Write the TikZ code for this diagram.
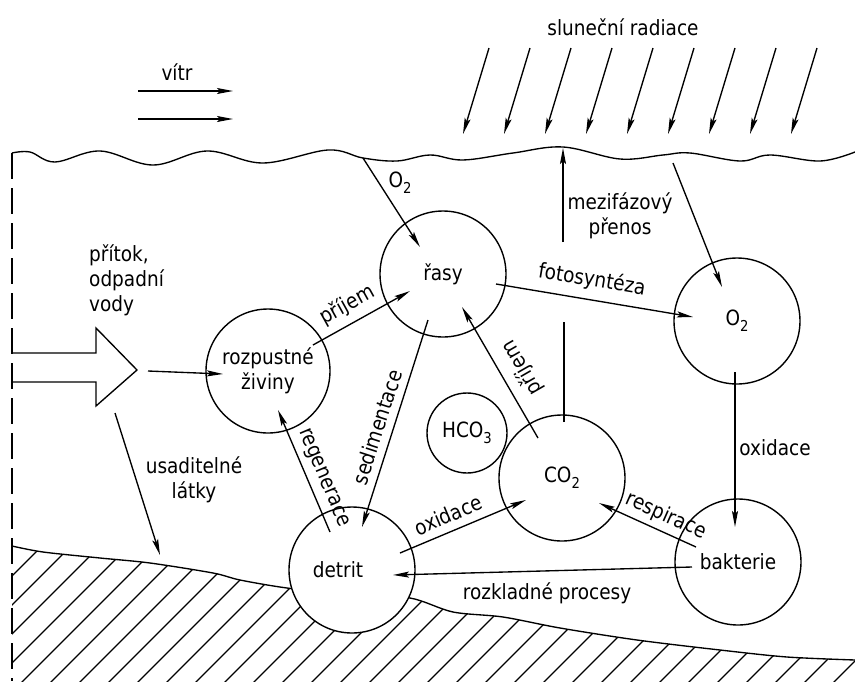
\documentclass[tikz,border=0pt]{standalone}
\usepackage{fontspec}
\setmainfont[FakeStretch=0.88]{DejaVu Sans}
\usetikzlibrary{arrows.meta}
\newcommand\chsub[1]{\raisebox{-0.5ex}{\fontsize{15}{15}\selectfont #1}}
\begin{document}
\begin{tikzpicture}[x=1pt,y=-1pt,
  every node/.style={font=\fontsize{21}{25}\selectfont, inner sep=0pt},
  ln/.style={line width=1.35pt},
  arr/.style={ln, -{Stealth[length=16pt,width=6pt,inset=3pt]}},
  blob/.style={circle, draw, line width=1.4pt, minimum size=#1}]
\useasboundingbox (0,0) rectangle (855,681);

% ground hatching
\begin{scope}
\clip plot[smooth] coordinates {(12,546) (43,552) (100,558) (150,563) (213,573) (240,580) (287,588) (352,595) (410,598) (453,612) (503,617) (560,628) (637,640) (720,650) (787,657) (855,660)} -- (855,690) -- (12,690) -- cycle;
\foreach \c in {-160,-131,...,880} \draw[ln] (\c,690) -- ({\c+220},470);
\end{scope}
\draw[ln] plot[smooth] coordinates {(12,546) (43,552) (100,558) (150,563) (213,573) (240,580) (287,588) (352,595) (410,598) (453,612) (503,617) (560,628) (637,640) (720,650) (787,657) (855,660)};

% water surface
\draw[ln] plot[smooth, tension=0.6] coordinates {(12,153) (30,152) (55,162) (100,151) (153,165) (207,151) (263,163) (328,150) (363,158) (397,161) (430,155) (463,160) (513,153) (563,147) (620,159) (663,155) (690,153) (740,161) (770,155) (820,161) (855,152)};
% left dashed boundary
\draw[ln, dash pattern=on 26pt off 9pt] (12,153) -- (12,681);

% wind
\node (vitr) at (177,72) {vítr};
\coordinate (w1a) at (138,91); \coordinate (w1b) at (233,91);
\coordinate (w2a) at (138,119); \coordinate (w2b) at (233,119);
\draw[arr] (w1a) -- (w1b);
\draw[arr] (w2a) -- (w2b);

% solar radiation
\node (sun) at (623,27) {sluneční radiace};
\foreach \i in {0,...,8} {
  \coordinate (s\i a) at ({489+41*\i},48);
  \coordinate (s\i b) at ({463+41*\i},134);
  \draw[arr] (s\i a) -- (s\i b);
}

% circles
\node[blob=126pt] (rasy) at (443,274) {řasy};
\node[blob=124pt, align=center] (rozp) at (268,371) {rozpustné\\živiny};
\node[blob=126pt] (otwo) at (737,321) {O\chsub{2}};
\node[blob=80pt] (hco) at (467,433) {HCO\chsub{3}};
\node[blob=126pt] (co) at (562,478) {CO\chsub{2}};
\node[blob=126pt] (bakt) at (738,562) {bakterie};
\node[blob=126pt, fill=white, text width=0pt] (detrit) at (352,570) {};
\node (detritlbl) at (338,570) {detrit};

% inflow of waste water
\draw[ln] (12,353) -- (96,353) -- (96,328) -- (137,370) -- (96,406) -- (96,382) -- (12,382);
\node[align=left, anchor=north west] (inflow) at (89,244) {přítok,\\odpadní\\vody};
\coordinate (inA) at (148,371);
\draw[arr] (inA) -- ([shift={(-45,3)}]rozp.center);

% settleable matter
\coordinate (usA) at (115,413); \coordinate (usB) at (160,555);
\draw[arr] (usA) -- (usB);
\node[align=center] (usad) at (194,480) {usaditelné\\látky};

% O2 from surface to algae
\coordinate (o2s) at (363,158);
\draw[arr] (o2s) -- ([shift={(-23,-27)}]rasy.center);
\node (o2lbl) at (400,183) {O\chsub{2}};

% surface to O2
\coordinate (o2s2) at (673,163);
\draw[arr] (o2s2) -- ([shift={(-15,-34)}]otwo.center);

% interphase transfer
\coordinate (mzA) at (564,322);
\coordinate (mzB) at (563,242);
\coordinate (mzC) at (563,148);
\draw[ln] ([shift={(2,-56)}]co.center) -- (mzA);
\draw[arr] (mzB) -- (mzC);
\node[align=center] (mz) at (620,216) {mezifázový\\přenos};

% process arrows
\draw[arr] ([shift={(45,-26)}]rozp.center) -- ([shift={(-33,17)}]rasy.center);
\node[rotate=29] (l1) at (347,305) {příjem};

\draw[arr] ([shift={(53,10)}]rasy.center) -- ([shift={(-44,-4)}]otwo.center);
\node[rotate=-9.5] (l2) at (592,280) {fotosyntéza};

\draw[arr] ([shift={(-24,-40)}]co.center) -- ([shift={(19,33)}]rasy.center);
\node[rotate=120] (l3) at (522,368) {příjem};

\draw[arr] ([shift={(-15,46)}]rasy.center) -- ([shift={(10,-43)}]detrit.center);
\node[rotate=72] (l4) at (377,427) {sedimentace};

\draw[arr] ([shift={(-22,-38)}]detrit.center) -- ([shift={(10,39)}]rozp.center);
\node[rotate=-67] (l5) at (323,478) {regenerace};

\draw[arr] ([shift={(48,-17)}]detrit.center) -- ([shift={(-36,22)}]co.center);
\node[rotate=23] (l6) at (448,515) {oxidace};

\draw[arr] ([shift={(-42,-15)}]bakt.center) -- ([shift={(37,25)}]co.center);
\node[rotate=-24] (l7) at (666,516) {respirace};

\draw[arr] ([shift={(-46,5)}]bakt.center) -- ([shift={(41,5)}]detrit.center);
\node (l8) at (547,593) {rozkladné procesy};

\draw[arr] ([shift={(-2,51)}]otwo.center) -- ([shift={(-3,-35)}]bakt.center);
\node (l9) at (775,448) {oxidace};
\end{tikzpicture}
\end{document}
